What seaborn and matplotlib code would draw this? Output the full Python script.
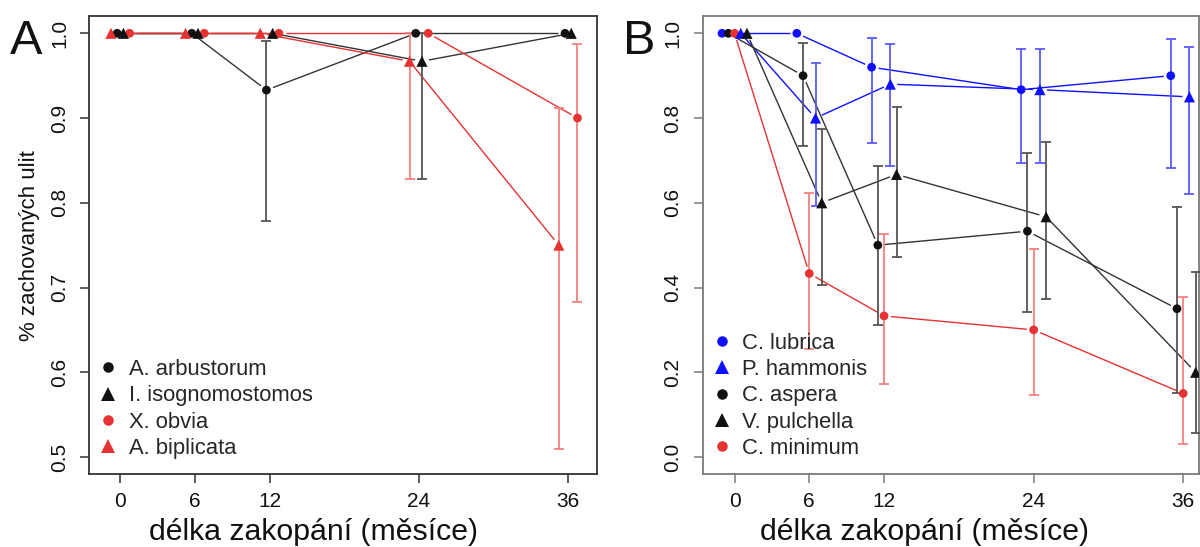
import numpy as np
import pandas as pd
import matplotlib
matplotlib.use("Agg")
import matplotlib.pyplot as plt
from matplotlib.lines import Line2D
import seaborn as sns

sns.set_theme(style="white")
plt.rcParams["font.family"] = ["Liberation Sans", "DejaVu Sans"]

# burial times (months)
months = [0, 6, 12, 24, 36]
nan = np.nan

# ---- panel A: proportion of preserved shells
a_species = ["A. arbustorum", "I. isognomostomos", "X. obvia", "A. biplicata"]
a_arbustorum = [1.0, 1.0, 0.933, 1.0, 1.0]
a_arbustorum_lo = [nan, nan, 0.779, nan, nan]
a_arbustorum_hi = [nan, nan, 0.991, nan, nan]
i_isognomostomos = [1.0, 1.0, 1.0, 0.967, 1.0]
i_isognomostomos_lo = [nan, nan, nan, 0.828, nan]
i_isognomostomos_hi = [nan, nan, nan, 1.0, nan]
x_obvia = [1.0, 1.0, 1.0, 1.0, 0.9]
x_obvia_lo = [nan, nan, nan, nan, 0.683]
x_obvia_hi = [nan, nan, nan, nan, 0.987]
a_biplicata = [1.0, 1.0, 1.0, 0.967, 0.75]
a_biplicata_lo = [nan, nan, nan, 0.828, 0.509]
a_biplicata_hi = [nan, nan, nan, 1.0, 0.912]

# ---- panel B
b_species = ["C. lubrica", "P. hammonis", "C. aspera", "V. pulchella", "C. minimum"]
c_lubrica = [1.0, 1.0, 0.92, 0.867, 0.9]
c_lubrica_lo = [nan, nan, 0.74, 0.693, 0.683]
c_lubrica_hi = [nan, nan, 0.99, 0.962, 0.987]
p_hammonis = [1.0, 0.8, 0.88, 0.867, 0.85]
p_hammonis_lo = [nan, 0.593, 0.687, 0.693, 0.621]
p_hammonis_hi = [nan, 0.931, 0.974, 0.962, 0.967]
c_aspera = [1.0, 0.9, 0.5, 0.533, 0.35]
c_aspera_lo = [nan, 0.734, 0.311, 0.343, 0.152]
c_aspera_hi = [nan, 0.978, 0.687, 0.717, 0.591]
v_pulchella = [1.0, 0.6, 0.667, 0.567, 0.2]
v_pulchella_lo = [nan, 0.405, 0.471, 0.373, 0.056]
v_pulchella_hi = [nan, 0.773, 0.827, 0.744, 0.436]
c_minimum = [1.0, 0.433, 0.333, 0.3, 0.15]
c_minimum_lo = [nan, 0.254, 0.173, 0.146, 0.031]
c_minimum_hi = [nan, 0.624, 0.527, 0.492, 0.377]

BLACK = "#111111"
RED = "#e53232"
BLUE = "#1010ff"
BAR = {BLACK: "#555555", RED: "#f38080", BLUE: "#5a5aff"}
LINE = {BLACK: "#333333", RED: RED, BLUE: BLUE}

# (name, values, lo, hi, colour, marker, horizontal jitter in months)
series_a = [
    ("A. arbustorum", a_arbustorum, a_arbustorum_lo, a_arbustorum_hi, BLACK, "o", -0.25),
    ("I. isognomostomos", i_isognomostomos, i_isognomostomos_lo, i_isognomostomos_hi, BLACK, "^", 0.25),
    ("X. obvia", x_obvia, x_obvia_lo, x_obvia_hi, RED, "o", 0.75),
    ("A. biplicata", a_biplicata, a_biplicata_lo, a_biplicata_hi, RED, "^", -0.75),
]
series_b = [
    ("C. lubrica", c_lubrica, c_lubrica_lo, c_lubrica_hi, BLUE, "o", -1.0),
    ("P. hammonis", p_hammonis, p_hammonis_lo, p_hammonis_hi, BLUE, "^", 0.5),
    ("C. aspera", c_aspera, c_aspera_lo, c_aspera_hi, BLACK, "o", -0.5),
    ("V. pulchella", v_pulchella, v_pulchella_lo, v_pulchella_hi, BLACK, "^", 1.0),
    ("C. minimum", c_minimum, c_minimum_lo, c_minimum_hi, RED, "o", 0.0),
]
MS = {"o": 6.3, "^": 8.0}

fig = plt.figure(figsize=(12, 5.47), dpi=100)
ax_a = fig.add_axes([0.0744, 0.1329, 0.4229, 0.8378])
ax_b = fig.add_axes([0.5856, 0.1329, 0.4134, 0.8378])

ax_a.set_xlim(-2.49, 38.3)
ax_a.set_ylim(0.4796, 1.0204)
ax_b.set_xlim(-2.55, 37.25)
ax_b.set_ylim(-0.0408, 1.0408)


def gapped_line(ax, xs, ys, color, gap_px=7.0):
    """Connect points with segments that stop short of each marker."""
    pts = ax.transData.transform(np.column_stack([xs, ys]))
    inv = ax.transData.inverted()
    for p0, p1 in zip(pts[:-1], pts[1:]):
        d = p1 - p0
        length = np.hypot(*d)
        if length <= 2 * gap_px:
            continue
        u = d / length
        seg = inv.transform(np.vstack([p0 + u * gap_px, p1 - u * gap_px]))
        ax.plot(seg[:, 0], seg[:, 1], color=color, lw=1.0, zorder=2,
                solid_capstyle="butt")


def draw_panel(ax, series):
    rows = []
    for name, vals, lo, hi, col, mk, dx in series:
        x = np.array(months, dtype=float) + dx
        v = np.array(vals)
        lo = np.array(lo)
        hi = np.array(hi)
        gapped_line(ax, x, v, LINE[col])
        ok = ~np.isnan(lo)
        ax.errorbar(x[ok], v[ok], yerr=[v[ok] - lo[ok], hi[ok] - v[ok]],
                    fmt="none", ecolor=BAR[col], elinewidth=1.3,
                    capsize=3.4, capthick=1.3, zorder=3)
        for xi, vi in zip(x, v):
            rows.append({"species": name, "t": xi, "p": vi})
    df = pd.DataFrame(rows)
    palette = {s[0]: s[4] for s in series}
    for mk in ("o", "^"):
        names = [s[0] for s in series if s[5] == mk]
        sub = df[df["species"].isin(names)]
        sns.scatterplot(data=sub, x="t", y="p", hue="species", palette=palette,
                        marker=mk, s=(MS[mk] ** 2), edgecolor="none",
                        linewidth=0, legend=False, ax=ax, zorder=4)
    handles = [Line2D([], [], ls="none", marker=s[5], color=s[4],
                      markersize=MS[s[5]] * 1.2, markeredgewidth=0)
               for s in series]
    ax.legend(handles, [s[0] for s in series], loc="lower left",
              bbox_to_anchor=(-0.01, 0.005), frameon=False, fontsize=15.8,
              handlelength=1.0, handletextpad=0.42, labelspacing=0.24,
              borderaxespad=0.2)


draw_panel(ax_a, series_a)
draw_panel(ax_b, series_b)

for ax, frame_col, yt, lx in ((ax_a, "#333333", np.arange(0.5, 1.01, 0.1), 0.441),
                              (ax_b, "#7a7a7a", np.arange(0.0, 1.01, 0.2), 0.448)):
    ax.set_xticks(months)
    ax.set_yticks(yt)
    ax.set_yticklabels([f"{v:.1f}" for v in yt], rotation=90, va="center")
    ax.tick_params(axis="both", direction="out", length=6.5, width=1.1,
                   color=frame_col, labelsize=15, labelcolor="#111111",
                   left=True, bottom=True)
    ax.tick_params(axis="y", pad=8)
    ax.tick_params(axis="x", pad=6)
    for sp in ax.spines.values():
        sp.set_color(frame_col)
        sp.set_linewidth(1.3)
    ax.set_xlabel("délka zakopání (měsíce)", fontsize=21.8, color="#111111")
    ax.xaxis.set_label_coords(lx, -0.095)
    ax.set_ylabel("")

ax_a.set_ylabel("% zachovaných ulit", fontsize=16, color="#111111")
ax_a.yaxis.set_label_coords(-0.097, 0.5)

fig.text(0.008, 0.965, "A", fontsize=35, va="top", ha="left", color="#111111")
fig.text(0.519, 0.965, "B", fontsize=35, va="top", ha="left", color="#111111")

fig.savefig("out.png", dpi=100, facecolor="white")
